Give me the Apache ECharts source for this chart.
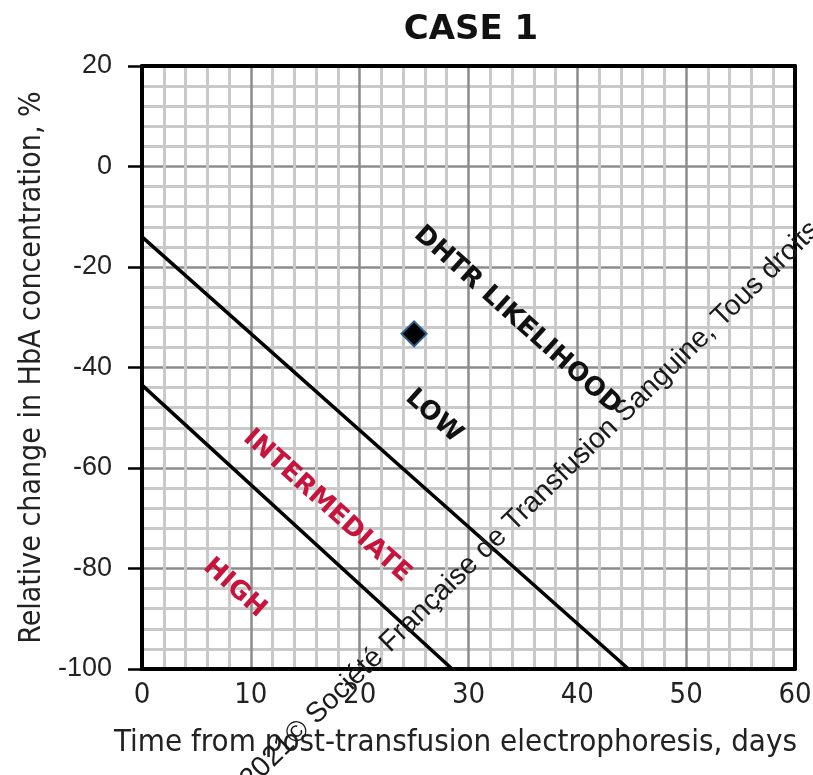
<!DOCTYPE html>
<html>
<head>
<meta charset="utf-8">
<script src="https://cdn.jsdelivr.net/npm/echarts@6/dist/echarts.min.js"></script>
<style>
html,body{margin:0;padding:0;background:#fff;}
#chart{width:813px;height:775px;}
</style>
</head>
<body>
<div id="chart"></div>
<script>
// ---- data ----
const titleText = 'CASE 1';
const xName = 'Time from post-transfusion electrophoresis, days';
const yName = 'Relative change in HbA concentration, %';
const xTicks = [0, 10, 20, 30, 40, 50, 60];
const yTicks = [-100, -80, -60, -40, -20, 0, 20];
// boundary lines [day, % change]
const lowBoundary = [[0, -14], [44.7, -100]];
const highBoundary = [[0, -43.5], [28.5, -100]];
// patient point
const patientPoint = [[25, -33.3]];
// zone annotations: [text, x, y, color]
const zoneLabels = [
  ['DHTR LIKELIHOOD', 34.5, -30.6, '#111111'],
  ['LOW', 26.8, -49.7, '#111111'],
  ['INTERMEDIATE', 17.0, -67.6, '#c8143c'],
  ['HIGH', 8.5, -83.9, '#c8143c']
];
const watermark = '2021© Société Française de Transfusion Sanguine, Tous droits';

const chart = echarts.init(document.getElementById('chart'), null, {renderer: 'canvas'});
const narrow = '"Liberation Sans Narrow", "DejaVu Sans Condensed", "Liberation Sans", sans-serif';

const borderAxisX = (pos) => ({
  type: 'value', min: xTicks[0], max: xTicks[xTicks.length - 1], position: pos, z: 10,
  axisLine: {show: true, onZero: false, lineStyle: {color: '#000', width: 4}},
  axisTick: {show: false}, axisLabel: {show: false}, splitLine: {show: false}
});
const borderAxisY = (pos) => ({
  type: 'value', min: yTicks[0], max: yTicks[yTicks.length - 1], position: pos, z: 10,
  axisLine: {show: true, onZero: false, lineStyle: {color: '#000', width: 4}},
  axisTick: {show: false}, axisLabel: {show: false}, splitLine: {show: false}
});

const option = {
  animation: false,
  backgroundColor: '#fff',
  title: {
    text: titleText, left: 466, top: 8, textAlign: 'center',
    textStyle: {fontFamily: '"DejaVu Sans", sans-serif', fontWeight: 'bold', fontSize: 34, color: '#111'}
  },
  grid: {left: 142, right: 18, top: 66, bottom: 106, containLabel: false, outerBoundsMode: 'none'},
  xAxis: [
    {
      type: 'value', min: xTicks[0], max: xTicks[xTicks.length - 1], interval: 10, position: 'bottom',
      name: xName, nameLocation: 'middle', nameGap: 58,
      nameTextStyle: {fontFamily: narrow, fontSize: 31, color: '#222', padding: [0, 26, 0, 0]},
      axisLine: {show: false, onZero: false},
      axisTick: {show: false},
      axisLabel: {margin: 12, fontFamily: narrow, fontSize: 29, color: '#222'},
      splitLine: {show: true, lineStyle: {color: '#8c8c8c', width: 2.5}},
      minorTick: {show: false, splitNumber: 5},
      minorSplitLine: {show: true, lineStyle: {color: '#c9c9c9', width: 3}}
    },
    borderAxisX('top'),
    borderAxisX('bottom')
  ],
  yAxis: [
    {
      type: 'value', min: yTicks[0], max: yTicks[yTicks.length - 1], interval: 20, position: 'left',
      name: yName, nameLocation: 'middle', nameGap: 93, nameRotate: 90,
      nameTextStyle: {fontFamily: narrow, fontSize: 30, color: '#222'},
      axisLine: {show: false, onZero: false},
      axisTick: {show: true, length: 14, lineStyle: {color: '#000', width: 2.5}},
      axisLabel: {margin: 30, fontFamily: '"Liberation Sans", sans-serif', fontSize: 27, color: '#222'},
      splitLine: {show: true, lineStyle: {color: '#8c8c8c', width: 2.5}},
      minorTick: {show: false, splitNumber: 5},
      minorSplitLine: {show: true, lineStyle: {color: '#c9c9c9', width: 3}}
    },
    borderAxisY('right'),
    borderAxisY('left')
  ],
  series: [
    {type: 'line', data: lowBoundary, symbol: 'none', z: 5, lineStyle: {color: '#000', width: 3.5}},
    {type: 'line', data: highBoundary, symbol: 'none', z: 5, lineStyle: {color: '#000', width: 3.5}},
    {type: 'scatter', data: patientPoint, symbol: 'diamond', symbolSize: 25, z: 6,
      itemStyle: {color: '#000', opacity: 1, borderColor: '#2b5f8e', borderWidth: 2}}
  ]
};
chart.setOption(option);

const angle = -0.73;
const graphics = zoneLabels.map(([t, x, y, c]) => {
  const p = chart.convertToPixel({xAxisIndex: 0, yAxisIndex: 0}, [x, y]);
  return {
    type: 'text', x: p[0], y: p[1], rotation: angle, z: 20,
    style: {text: t, fill: c, font: 'bold 26px "DejaVu Sans", sans-serif', textAlign: 'center', textVerticalAlign: 'middle'}
  };
});
graphics.push({
  type: 'text', x: 815, y: 226, rotation: 0.775, z: 30,
  style: {text: watermark, fill: '#1a1a1a', font: '28.5px "Liberation Sans", sans-serif', textAlign: 'right', textVerticalAlign: 'middle'}
});
chart.setOption({graphic: graphics});
</script>
</body>
</html>
